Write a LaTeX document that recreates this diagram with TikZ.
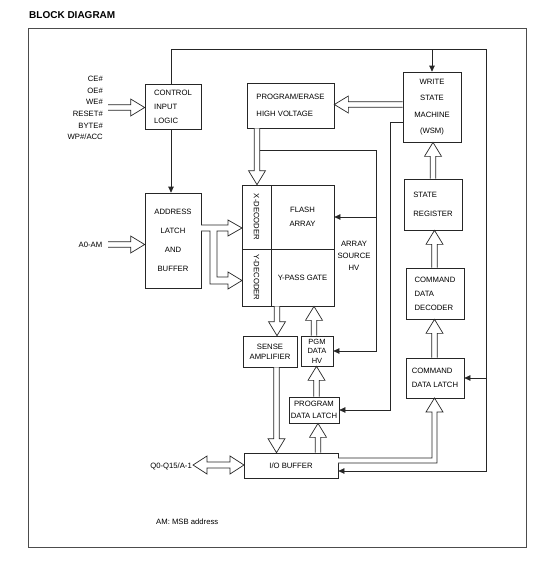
\documentclass[tikz,border=0pt]{standalone}
\usepackage{fontspec}
\setmainfont{Liberation Sans}
\usetikzlibrary{arrows.meta,calc}
\newcommand\bsw{2.7pt}
\newcommand\bhw{8.5pt}
\newcommand\bhl{14pt}
% vertical hollow bus arrow: x and base y from #1, tip y from #2
\newcommand\busv[2]{\draw[bus] let \p1=(#1),\p2=(#2),\n1={sign(\y2-\y1)} in
  ({\x1-\bsw},\y1) -- ({\x1-\bsw},{\y2-(\n1)*\bhl}) -- ({\x1-\bhw},{\y2-(\n1)*\bhl}) -- (\x1,\y2)
  -- ({\x1+\bhw},{\y2-(\n1)*\bhl}) -- ({\x1+\bsw},{\y2-(\n1)*\bhl}) -- ({\x1+\bsw},\y1);}
% horizontal hollow bus arrow: y and base x from #1, tip x from #2
\newcommand\bush[2]{\draw[bus] let \p1=(#1),\p2=(#2),\n1={sign(\x2-\x1)} in
  (\x1,{\y1+\bsw}) -- ({\x2-(\n1)*\bhl},{\y1+\bsw}) -- ({\x2-(\n1)*\bhl},{\y1+\bhw}) -- (\x2,\y1)
  -- ({\x2-(\n1)*\bhl},{\y1-\bhw}) -- ({\x2-(\n1)*\bhl},{\y1-\bsw}) -- (\x1,{\y1-\bsw});}
\tikzset{
  box/.style={draw=black!85, line width=0.7pt, rectangle, inner sep=0pt, align=center,
    font=\fontsize{7.7}{14}\selectfont},
  lbl/.style={inner sep=0pt, font=\fontsize{7.7}{11.6}\selectfont},
  conn/.style={draw=black!85, line width=0.7pt},
  arr/.style={conn, -{Triangle[length=6pt,width=5.5pt]}},
  bus/.style={draw=black!85, fill=white, line width=0.7pt, line join=miter},
  frame/.style={draw=black!70, line width=0.9pt}
}
\begin{document}
\begin{tikzpicture}[x=1pt,y=-1pt]
\useasboundingbox (0,0) rectangle (553,568);
\node[anchor=west, inner sep=0pt, font=\fontsize{10}{12}\selectfont\bfseries] (title) at (29,15) {BLOCK DIAGRAM};
\draw[frame] (28,28) rectangle (526,547);

% boxes
\node[box, minimum width=56pt, minimum height=45pt, align=left] (ctrl) at (173,106.5) {CONTROL\\INPUT\\LOGIC};
\node[box, minimum width=87pt, minimum height=45pt, align=left, font=\fontsize{7.7}{17}\selectfont] (pe) at (290.5,105.5) {PROGRAM/ERASE\\HIGH VOLTAGE};
\node[box, minimum width=58pt, minimum height=70pt, font=\fontsize{7.7}{16.5}\selectfont] (wsm) at (432,107) {WRITE\\STATE\\MACHINE\\(WSM)};
\node[box, minimum width=56pt, minimum height=95pt, font=\fontsize{7.7}{19}\selectfont] (addr) at (173,240.5) {ADDRESS\\LATCH\\AND\\BUFFER};
\node[box, minimum width=29pt, minimum height=64pt] (xdec) at (256.5,217) {\rotatebox{-90}{X-DECODER}};
\node[box, minimum width=63pt, minimum height=64pt] (farray) at (302.5,217) {FLASH\\ARRAY};
\node[box, minimum width=29pt, minimum height=57pt] (ydec) at (256.5,277.5) {\rotatebox{-90}{Y-DECODER}};
\node[box, minimum width=63pt, minimum height=57pt] (ypass) at (302.5,277.5) {Y-PASS GATE};
\node[box, minimum width=58pt, minimum height=51pt, align=left, font=\fontsize{7.7}{19}\selectfont] (sreg) at (433,204.5) {STATE\\REGISTER};
\node[box, minimum width=58pt, minimum height=51pt, align=left] (cmdd) at (435,293.5) {COMMAND\\DATA\\DECODER};
\node[box, minimum width=58pt, minimum height=40pt, align=left] (cmdl) at (435,378) {COMMAND\\DATA LATCH};
\node[box, minimum width=54pt, minimum height=31pt, font=\fontsize{7.7}{10}\selectfont] (sense) at (270,351.5) {SENSE\\AMPLIFIER};
\node[box, minimum width=32pt, minimum height=30pt, font=\fontsize{7.5}{9.5}\selectfont] (pgm) at (317,351) {PGM\\DATA\\HV};
\node[box, minimum width=50pt, minimum height=26pt, font=\fontsize{7.7}{12}\selectfont] (pdl) at (314,410) {PROGRAM\\DATA LATCH};
\node[box, minimum width=94pt, minimum height=25pt] (io) at (291,465.5) {I/O BUFFER};

% labels
\node[lbl, anchor=east, align=right] (sigs) at (103,108) {CE\#\\OE\#\\WE\#\\RESET\#\\BYTE\#\\WP\#/ACC};
\node[lbl] (a0) at (90.5,245) {A0-AM};
\node[lbl, anchor=east] (qlab) at (192,466) {Q0-Q15/A-1};
\node[lbl, align=center, font=\fontsize{7.7}{12}\selectfont] (ash) at (354,256) {ARRAY\\SOURCE\\HV};
\node[lbl, anchor=west] (note) at (156,522) {AM: MSB address};

% thin connectors
\coordinate (topR) at (486,49);
\draw[arr] (171,0 |- ctrl.north) |- (topR) |- (io.east |- 0,471);
\draw[arr] (wsm.north |- topR) -- (wsm.north);
\draw[arr] (topR |- cmdl.east) -- (cmdl.east);
\draw[arr] (171,0 |- ctrl.south) -- (171,0 |- addr.north);
\draw[arr] (wsm.west |- 0,122) -| (390,0 |- pdl.east) -- (pdl.east);
\draw[arr] (259.7,150) -| (376,0 |- pgm.east) -- (pgm.east);
\draw[arr] (376,0 |- farray.east) -- (farray.east);

% hollow bus arrows
\coordinate (sigtail) at (108,107.5);
\coordinate (a0tail) at (108,244.5);
\bush{sigtail}{ctrl.west}
\bush{a0tail}{addr.west}
\bush{wsm.west |- 0,104.5}{pe.east}
\busv{257,0 |- pe.south}{xdec.north}
\busv{277,0 |- ypass.south}{sense.north}
\busv{314,0 |- pgm.north}{ypass.south}
\busv{316.5,0 |- pdl.north}{pgm.south}
\busv{318,0 |- io.north}{pdl.south}
\busv{276.5,0 |- sense.south}{io.north}
\busv{434.5,0 |- cmdl.north}{cmdd.south}
\busv{434.5,0 |- cmdd.north}{sreg.south}
\busv{433,0 |- sreg.north}{wsm.south}

% address bus split to X and Y decoders
\draw[bus] (201,225) -- (228,225) -- (228,220) -- (242,228) -- (228,236) -- (228,231) -- (217,231)
  -- (217,277) -- (228,277) -- (228,272) -- (242,280.5) -- (228,289) -- (228,284) -- (210,284)
  -- (210,231) -- (201,231);
% bidirectional data bus
\draw[bus] (193,465) -- (207,456) -- (207,462) -- (230,462) -- (230,456) -- (244,465)
  -- (230,474) -- (230,468) -- (207,468) -- (207,474) -- cycle;
% I/O buffer to command data latch
\draw[bus] (338,463) -- (437,463) -- (437,412) -- (443,412) -- (434.5,398) -- (426,412)
  -- (432,412) -- (432,458) -- (338,458);
\end{tikzpicture}
\end{document}
